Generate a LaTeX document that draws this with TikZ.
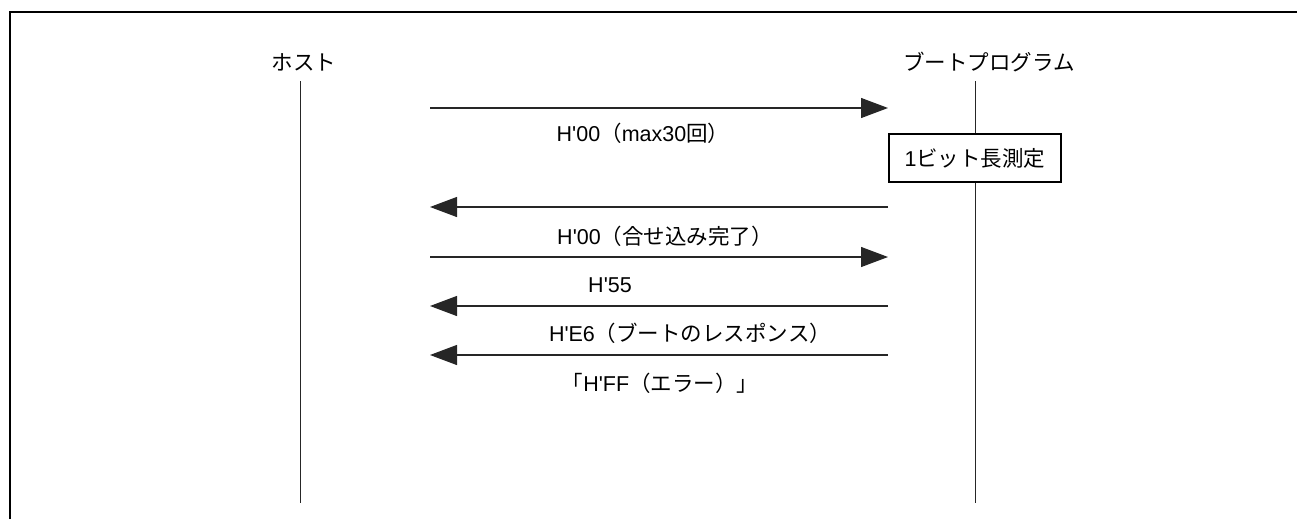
\documentclass[tikz,border=0pt]{standalone}
\usepackage{fontspec}
\setmainfont{Liberation Sans}
\newfontfamily\lat{Liberation Sans}
\newfontfamily\jp{Noto Sans CJK JP}
\newcommand\ap{'}
\usetikzlibrary{arrows.meta}
\begin{document}
\begin{tikzpicture}[x=1pt,y=-1pt,
  lbl/.style={font=\lat\fontsize{21.5}{24}\selectfont, inner sep=0pt},
  life/.style={line width=1pt, black!85},
  msg/.style={line width=1.2pt, black!85, -{Triangle[length=27pt,width=20pt]}},
  procbox/.style={draw, line width=1.4pt, font=\lat\fontsize{21.5}{24}\selectfont, minimum width=172pt, minimum height=48pt, inner sep=0pt, fill=white}]
\useasboundingbox (0,0) rectangle (1297,519);
% frame
\draw[line width=2.5pt] (10,519) -- (10,12) -- (1297,12);
% lifeline heads
\node[lbl] (host) at (304,62) {\jp ホスト};
\node[lbl] (boot) at (989,62) {\jp ブートプログラム};
\coordinate (hostTop) at (300,81);
\coordinate (hostEnd) at (300,503);
\coordinate (bootTop) at (975,81);
\coordinate (bootEnd) at (975,503);
\node[procbox] (meas) at (975,158) {1{\jp ビット長測定}};
\draw[life] (hostTop) -- (hostEnd);
\draw[life] (bootTop) -- (meas.north);
\draw[life] (meas.south) -- (bootEnd);
% message endpoints
\coordinate (l1) at (430,108); \coordinate (r1) at (888,108);
\coordinate (l2) at (430,207); \coordinate (r2) at (888,207);
\coordinate (l3) at (430,257); \coordinate (r3) at (888,257);
\coordinate (l4) at (430,306); \coordinate (r4) at (888,306);
\coordinate (l5) at (430,355); \coordinate (r5) at (888,355);
\draw[msg] (l1) -- (r1);
\draw[msg] (r2) -- (l2);
\draw[msg] (l3) -- (r3);
\draw[msg] (r4) -- (l4);
\draw[msg] (r5) -- (l5);
% labels
\node[lbl] (t1) at (643,133) {H\ap00{\jp （}max30{\jp 回）}};
\node[lbl] (t2) at (665,236) {H\ap00{\jp （合せ込み完了）}};
\node[lbl] (t3) at (610,285) {H\ap55};
\node[lbl] (t4) at (690,333) {H\ap E6{\jp （ブートのレスポンス）}};
\node[lbl] (t5) at (660,383) {{\jp 「}H\ap FF{\jp （エラー）」}};
\end{tikzpicture}
\end{document}
